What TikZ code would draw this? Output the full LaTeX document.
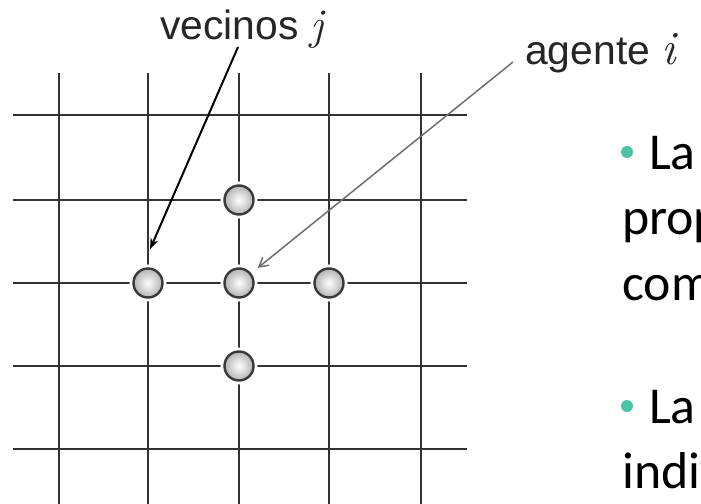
\documentclass[tikz,border=0pt]{standalone}
\usepackage{fontspec}
\usetikzlibrary{arrows.meta,calc}
\newfontfamily\arialf{Liberation Sans}
\newfontfamily\calib{Carlito}
\newfontfamily\lmser{Latin Modern Roman}
\definecolor{gridc}{HTML}{333333}
\definecolor{teal}{RGB}{76,196,164}
\definecolor{arrgray}{HTML}{6E6E6E}
\tikzset{
  gridline/.style={draw=gridc, line width=2.6bp},
  agent/.style={circle, minimum size=29bp, inner sep=0pt,
    preaction={draw=white, line width=8bp},
    inner color=white, outer color=gray!60, draw=gray!45!black, line width=2.4bp},
  lbl/.style={font=\arialf\fontsize{41}{48}\selectfont, text=black!85, inner sep=0pt, anchor=base west},
  body/.style={font=\calib\fontsize{52}{60}\selectfont, text=black, inner sep=0pt, anchor=base west},
  bul/.style={circle, fill=teal, minimum size=12bp, inner sep=0pt}
}
\begin{document}
\begin{tikzpicture}[x=1bp,y=-1bp]
\path[use as bounding box] (0,0) rectangle (701,504);
\clip (0,0) rectangle (701,504);
\fill[white] (0,0) rectangle (701,504);
% grid
\foreach \x in {59,148,239,329,421} \draw[gridline] (\x,73) -- (\x,510);
\foreach \y in {115,200,283,366,449} \draw[gridline] (13,\y) -- (467,\y);
% agents
\node[agent] (nT) at (239,200) {};
\node[agent] (nL) at (148,283) {};
\node[agent] (nC) at (239,283) {};
\node[agent] (nR) at (329,283) {};
\node[agent] (nB) at (239,366) {};
% labels
\node[lbl] (lv) at (160,40) {vecinos {\lmser\itshape\fontsize{44}{48}\selectfont j}};
\node[lbl] (la) at (525,65) {agente {\lmser\itshape\fontsize{48}{48}\selectfont i}};
\coordinate (a1) at (238,47);
\coordinate (a2) at (513,62);
\draw[line width=2bp, black, -{Stealth[length=11bp,width=8bp]}] (a1) -- ($(nL.north)+(2,-18)$);
\draw[line width=1.5bp, arrgray, -{Straight Barb[length=9bp,width=10bp]}] (a2) -- ($(nC.center)!24bp!(a2)$);
% right text
\node[bul] (b1) at (627,152) {};
\node[body] (t1) at (649,170) {La};
\node[body] (t2) at (622,235) {prop};
\node[body] (t3) at (622,300) {com};
\node[bul] (b2) at (627,406) {};
\node[body] (t4) at (649,423) {La};
\node[body] (t5) at (622,488) {indiv};
\end{tikzpicture}
\end{document}
